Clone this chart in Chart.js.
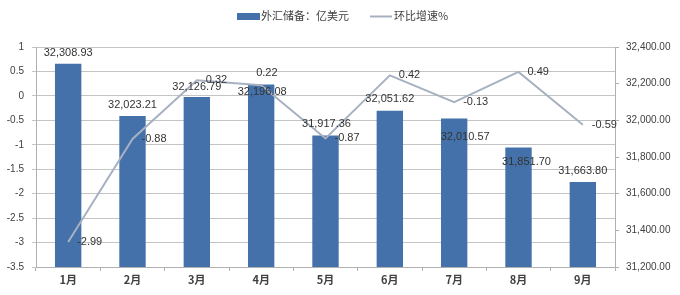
<!DOCTYPE html>
<html><head><meta charset="utf-8">
<script src="https://cdn.jsdelivr.net/npm/chart.js@4/dist/chart.umd.min.js"></script>
<style>html,body{margin:0;padding:0;background:#fff;}#wrap{width:680px;height:295px;position:relative;}</style>
</head><body><div id="wrap"><canvas id="c" width="680" height="295"></canvas></div>
<script>
const categories = ["1月","2月","3月","4月","5月","6月","7月","8月","9月"];
const reserves = [32308.93, 32023.21, 32126.79, 32196.08, 31917.36, 32051.62, 32010.57, 31851.70, 31663.80];
const growth = [-2.99, -0.88, 0.32, 0.22, -0.87, 0.42, -0.13, 0.49, -0.59];
const seriesNames = ["外汇储备：亿美元", "环比增速%"];

// label placement (style only): [dx, dy] relative to bar top / line point
const barLabelShift = [[0,-11],[0,-11],[0,-10],[1,8],[1,-12],[0,-12],[11,19],[8,14],[0,-11]];
const lineLabelShift = [[9,0],[9,0],[9,0],[-5,-12],[9,0],[9,0],[9,0],[9,0],[9,0]];

const BAR_COLOR = "#4471a9";
const LINE_COLOR = "#a7b1c2";
const TEXT = "#404040";
const LATIN = "'Liberation Sans', Arial, sans-serif";
const CJK = "'Noto Sans CJK SC', 'Liberation Sans', sans-serif";

const fmt2 = v => Number(v).toLocaleString('en-US', {minimumFractionDigits: 2, maximumFractionDigits: 2});

const labelPlugin = {
  id: 'labels',
  afterDatasetsDraw(chart) {
    const ctx = chart.ctx;
    ctx.save();
    ctx.font = "11px " + LATIN;
    ctx.fillStyle = "#333";
    ctx.textBaseline = "middle";
    const barMeta = chart.getDatasetMeta(0);
    ctx.textAlign = "center";
    barMeta.data.forEach((el, i) => {
      const [dx, dy] = barLabelShift[i];
      ctx.fillText(fmt2(reserves[i]), el.x + dx, el.y + dy);
    });
    const lineMeta = chart.getDatasetMeta(1);
    ctx.textAlign = "left";
    lineMeta.data.forEach((el, i) => {
      const [dx, dy] = lineLabelShift[i];
      ctx.fillText(String(growth[i]), el.x + dx, el.y + dy);
    });
    ctx.restore();
  },
  afterDraw(chart) {
    const ctx = chart.ctx;
    ctx.save();
    ctx.font = "11px " + CJK;
    ctx.textBaseline = "middle"; ctx.textAlign = "left";
    ctx.fillStyle = BAR_COLOR;
    ctx.fillRect(237, 13, 23, 7);
    ctx.fillStyle = TEXT;
    ctx.fillText(seriesNames[0], 261, 16);
    ctx.strokeStyle = LINE_COLOR; ctx.lineWidth = 2;
    ctx.beginPath(); ctx.moveTo(370, 16.5); ctx.lineTo(392, 16.5); ctx.stroke();
    ctx.fillText(seriesNames[1], 394, 16);
    ctx.restore();
  }
};

new Chart(document.getElementById('c'), {
  data: {
    labels: categories,
    datasets: [
      { type: 'bar', label: seriesNames[0], data: reserves, yAxisID: 'y1', backgroundColor: BAR_COLOR,
        barPercentage: 0.41, categoryPercentage: 1.0, order: 2 },
      { type: 'line', label: seriesNames[1], data: growth, yAxisID: 'y', borderColor: LINE_COLOR,
        borderWidth: 2, pointRadius: 0, tension: 0, fill: false, order: 1 }
    ]
  },
  options: {
    responsive: false, animation: false,
    layout: { padding: { top: 47, left: 0, right: 0, bottom: 0 } },
    plugins: { legend: { display: false }, tooltip: { enabled: false } },
    scales: {
      x: {
        offset: true,
        grid: { offset: true, drawOnChartArea: false, drawTicks: true, tickLength: 4, color: "#b0b0b0" },
        border: { color: "#b0b0b0" },
        ticks: { color: TEXT, font: { family: CJK, size: 11, weight: 'bold' }, padding: 2 },
        afterFit: s => { s.height = 28; }
      },
      y: {
        position: 'left', min: -3.5, max: 1,
        ticks: { stepSize: 0.5, color: TEXT, font: { family: LATIN, size: 10 }, padding: 8,
          callback: v => String(Number(Number(v).toFixed(2))) },
        grid: { color: "#c4c4c4", tickLength: 4, drawTicks: true },
        border: { color: "#b0b0b0" },
        afterFit: s => { s.width = 36; }
      },
      y1: {
        position: 'right', min: 31200, max: 32400,
        ticks: { stepSize: 200, color: TEXT, font: { family: LATIN, size: 10 }, padding: 7,
          callback: v => fmt2(v) },
        grid: { drawOnChartArea: false, tickLength: 4, color: "#b0b0b0" },
        border: { color: "#b0b0b0" },
        afterFit: s => { s.width = 65; }
      }
    }
  },
  plugins: [labelPlugin]
});
</script></body></html>
